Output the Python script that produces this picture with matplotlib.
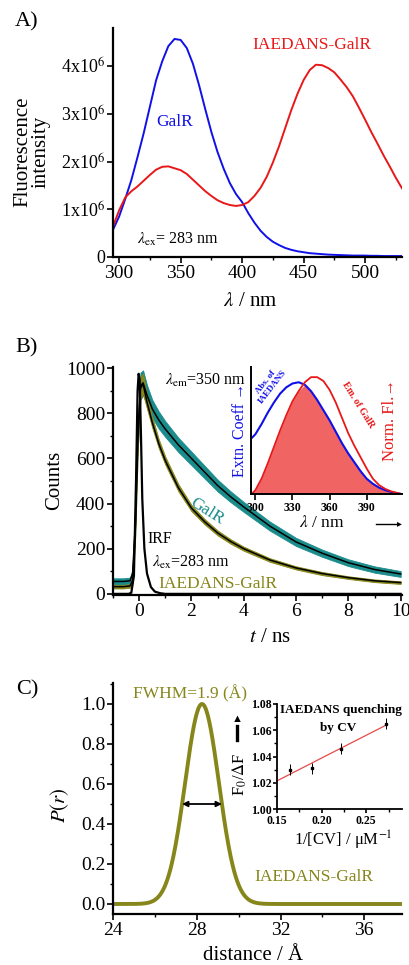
import numpy as np
import matplotlib
matplotlib.use("Agg")
import matplotlib.pyplot as plt
from matplotlib.ticker import MultipleLocator

plt.rcParams['font.family'] = ['Liberation Serif', 'DejaVu Sans']
plt.rcParams['mathtext.fontset'] = 'stix'

BLUE = '#1010e8'
RED = '#e81818'
TEAL = '#1b8c8c'
OLIVE = '#86861a'
FILL = '#f06464'

# --- A) steady-state emission spectra (x1e6 counts) ---
wl = np.arange(295, 531, 5)
galr_em = [0.57, 0.85, 1.22, 1.62, 2.10, 2.60, 3.15, 3.70, 4.10, 4.42, 4.57, 4.55,
           4.38, 4.05, 3.60, 3.10, 2.62, 2.20, 1.85, 1.55, 1.32, 1.15, 0.92, 0.72,
           0.55, 0.42, 0.32, 0.25, 0.19, 0.15, 0.12, 0.10, 0.08, 0.07, 0.06, 0.05,
           0.045, 0.04, 0.035, 0.03, 0.03, 0.03, 0.025, 0.025, 0.02, 0.02, 0.02, 0.02]
iaedans_em = [0.64, 0.98, 1.25, 1.38, 1.48, 1.60, 1.72, 1.83, 1.89, 1.90, 1.86, 1.82,
              1.74, 1.62, 1.50, 1.38, 1.28, 1.19, 1.13, 1.09, 1.07, 1.09, 1.15, 1.28,
              1.45, 1.68, 1.98, 2.32, 2.70, 3.08, 3.42, 3.71, 3.92, 4.03, 4.02, 3.96,
              3.87, 3.72, 3.56, 3.37, 3.13, 2.88, 2.62, 2.38, 2.13, 1.90, 1.66, 1.44]
a_yticks = [0, 1e6, 2e6, 3e6, 4e6]
a_yticklabels = ['0', r'1x10$^6$', r'2x10$^6$', r'3x10$^6$', r'4x10$^6$']

# --- B) time-resolved decays ---
t_decay = [-1.0, -0.6, -0.35, -0.25, -0.15, -0.05, 0.05, 0.15, 0.3, 0.5, 0.75, 1.0,
           1.5, 2.0, 2.5, 3.0, 3.5, 4.0, 5.0, 6.0, 7.0, 8.0, 9.0, 10.0]
galr_counts = [55, 55, 58, 90, 300, 700, 920, 935, 880, 820, 770, 730,
               660, 600, 540, 480, 430, 385, 300, 230, 180, 138, 108, 88]
galr_spread = [14, 14, 14, 20, 40, 50, 60, 55, 45, 40, 38, 35,
               32, 30, 28, 26, 24, 22, 20, 18, 16, 15, 14, 13]
iaedans_counts = [32, 32, 35, 60, 280, 680, 910, 930, 850, 760, 665, 590,
                  470, 380, 320, 270, 232, 200, 150, 115, 90, 72, 58, 50]
iaedans_spread = [8, 8, 8, 12, 30, 40, 50, 45, 30, 24, 20, 18,
                  16, 14, 12, 11, 10, 9, 8, 7, 7, 6, 6, 6]
t_irf = [-1.0, -0.4, -0.3, -0.2, -0.12, -0.06, -0.02, 0.02, 0.07, 0.12, 0.2, 0.3,
         0.45, 0.6, 0.8, 1.0, 10.0]
irf_counts = [0, 0, 5, 80, 500, 900, 975, 950, 700, 420, 200, 90, 30, 10, 3, 0, 0]

# inset: spectral overlap (normalised)
ov_wl = [297, 300, 305, 310, 315, 320, 325, 330, 335, 340, 345, 350, 355,
         360, 365, 370, 375, 380, 385, 390, 395, 400, 405, 410, 418]
abs_iaedans = [0.44, 0.47, 0.55, 0.64, 0.72, 0.79, 0.84, 0.87, 0.88, 0.86, 0.81,
               0.74, 0.66, 0.58, 0.49, 0.40, 0.32, 0.25, 0.18, 0.12, 0.08, 0.05,
               0.03, 0.015, 0.0]
em_galr = [0.0, 0.03, 0.12, 0.24, 0.37, 0.50, 0.62, 0.73, 0.81, 0.88, 0.92, 0.92,
           0.89, 0.82, 0.72, 0.60, 0.48, 0.38, 0.29, 0.20, 0.12, 0.07, 0.04, 0.02, 0.0]

# --- C) distance distribution ---
r_center = 28.25
fwhm = 1.9
inv_cv = [0.165, 0.189, 0.222, 0.272]
f0_df = [1.030, 1.031, 1.046, 1.065]
f0_err = [0.004, 0.004, 0.004, 0.004]

TICK = 14


def style_axes(ax, lw=1.6, size=TICK):
    for s in ['top', 'right']:
        ax.spines[s].set_visible(False)
    for s in ['left', 'bottom']:
        ax.spines[s].set_linewidth(lw)
    ax.tick_params(which='major', direction='out', length=4, width=1.2,
                   labelsize=size, pad=1.5)
    ax.tick_params(which='minor', direction='out', length=2.5, width=1.0)


W, H = 410, 965
fig = plt.figure(figsize=(W / 100, H / 100), dpi=100)


def rect(x0, y0, x1, y1):
    return [x0 / W, 1 - y1 / H, (x1 - x0) / W, (y1 - y0) / H]


def ftxt(x, y, s, **kw):
    fig.text(x / W, 1 - y / H, s, ha='center', va='center', **kw)


# ---------------- A ----------------
axA = fig.add_axes(rect(113, 28, 402, 257))
style_axes(axA)
axA.plot(wl, np.array(galr_em) * 1e6, color=BLUE, lw=1.4)
axA.plot(wl, np.array(iaedans_em) * 1e6, color=RED, lw=1.4)
axA.set_xlim(295, 530)
axA.set_ylim(0, 4.8e6)
axA.set_xticks([300, 350, 400, 450, 500])
axA.xaxis.set_minor_locator(MultipleLocator(25))
axA.set_yticks(a_yticks)
axA.set_yticklabels(a_yticklabels)
axA.tick_params(axis='y', labelsize=13)
axA.text(457, 4.44e6, 'IAEDANS-GalR', color=RED, fontsize=12.5, ha='center', va='center')
axA.text(345, 2.82e6, 'GalR', color=BLUE, fontsize=12.5, ha='center', va='center')
axA.text(348, 0.36e6, r'$\lambda_{\rm ex}$= 283 nm', fontsize=11.5, ha='center', va='center')
ftxt(32, 152, 'Fluorescence\nintensity', fontsize=15, rotation=90, linespacing=1.0)
ftxt(250, 302, r'$\lambda$ / nm', fontsize=15)
ftxt(27, 22, 'A)', fontsize=16)

# ---------------- B ----------------
axB = fig.add_axes(rect(113, 367, 402, 595))
style_axes(axB)
axB.fill_between(t_decay, np.array(galr_counts) - galr_spread,
                 np.array(galr_counts) + galr_spread, color=TEAL, lw=0.6)
axB.fill_between(t_decay, np.array(iaedans_counts) - iaedans_spread,
                 np.array(iaedans_counts) + iaedans_spread, color=OLIVE, lw=0.6)
axB.plot(t_decay, galr_counts, color='k', lw=1.1)
axB.plot(t_decay, iaedans_counts, color='k', lw=1.1)
axB.plot(t_irf, irf_counts, color='k', lw=1.6)
axB.set_xlim(-1, 10.05)
axB.set_ylim(-5, 1005)
axB.set_xticks(range(0, 11, 2))
axB.xaxis.set_minor_locator(MultipleLocator(1))
axB.set_yticks(range(0, 1001, 200))
axB.yaxis.set_minor_locator(MultipleLocator(100))
axB.text(2.55, 945, r'$\lambda_{\rm em}$=350 nm', fontsize=11.5, ha='center', va='center')
axB.text(2.6, 365, 'GalR', color=TEAL, fontsize=12.5, rotation=-32, ha='center', va='center')
axB.text(0.8, 245, 'IRF', fontsize=11.5, ha='center', va='center')
axB.text(2.0, 140, r'$\lambda_{\rm ex}$=283 nm', fontsize=11.5, ha='center', va='center')
axB.text(3.0, 45, 'IAEDANS-GalR', color=OLIVE, fontsize=12.5, ha='center', va='center')
ftxt(55, 480, 'Counts', fontsize=15, rotation=90)
ftxt(270, 637, r'$t$ / ns', fontsize=15)
ftxt(27, 348, 'B)', fontsize=16)

axBi = fig.add_axes(rect(251, 367, 402, 494))
style_axes(axBi, lw=1.4, size=8.5)
axBi.fill_between(ov_wl, 0, np.minimum(abs_iaedans, em_galr), color=FILL, lw=0)
axBi.plot(ov_wl, abs_iaedans, color=BLUE, lw=1.5)
axBi.plot(ov_wl, em_galr, color=RED, lw=1.3)
axBi.set_xlim(296.5, 418.5)
axBi.set_ylim(0, 1.0)
axBi.set_yticks([])
axBi.set_xticks([300, 330, 360, 390])
for lab in axBi.get_xticklabels():
    lab.set_fontweight('bold')
axBi.text(311, 0.86, 'Abs. of\nIAEDANS', color=BLUE, fontsize=6.5, fontweight='bold',
          rotation=52, ha='center', va='center', linespacing=1.05)
axBi.text(383, 0.70, 'Em. of GalR', color=RED, fontsize=7, fontweight='bold',
          rotation=-58, ha='center', va='center')
axBi.text(409, 0.58, 'Norm. Fl.\u2192', color=RED, fontsize=12, rotation=90,
          ha='center', va='center')
ftxt(240, 430, 'Extn. Coeff \u2192', color=BLUE, fontsize=11.5, rotation=90)
ftxt(322, 523, r'$\lambda$ / nm', fontsize=12.5)
fig.add_artist(plt.Line2D([376 / W, 398 / W], [1 - 524 / H] * 2, color='k', lw=1.0))
fig.text(399 / W, 1 - 524 / H, '\u25b8', fontsize=7, ha='center', va='center')

# ---------------- C ----------------
axC = fig.add_axes(rect(113, 683, 402, 914))
style_axes(axC)
r = np.linspace(24, 38, 400)
sigma = fwhm / (2 * np.sqrt(2 * np.log(2)))
p_r = np.exp(-0.5 * ((r - r_center) / sigma) ** 2)
axC.plot(r, p_r, color=OLIVE, lw=2.8)
axC.annotate('', xy=(r_center + fwhm / 2, 0.5), xytext=(r_center - fwhm / 2, 0.5),
             arrowprops=dict(arrowstyle='<|-|>', color='k', lw=1.3,
                             mutation_scale=8, shrinkA=0, shrinkB=0))
axC.set_xlim(24, 37.8)
axC.set_ylim(-0.05, 1.105)
axC.set_xticks([24, 28, 32, 36])
axC.xaxis.set_minor_locator(MultipleLocator(2))
axC.set_yticks(np.arange(0, 1.01, 0.2))
axC.yaxis.set_minor_locator(MultipleLocator(0.1))
axC.set_yticklabels(['0.0', '0.2', '0.4', '0.6', '0.8', '1.0'])
axC.text(27.7, 1.05, 'FWHM=1.9 (\u00c5)', color=OLIVE, fontsize=12.5, ha='center', va='center')
axC.text(33.6, 0.135, 'IAEDANS-GalR', color=OLIVE, fontsize=12.5, ha='center', va='center')
ftxt(60, 805, r'$P(r)$', fontsize=15, rotation=90)
ftxt(253, 955, 'distance / \u00c5', fontsize=15)
ftxt(27, 690, 'C)', fontsize=16)

axCi = fig.add_axes(rect(277, 704, 402, 809))
style_axes(axCi, lw=1.3, size=8.5)
axCi.tick_params(which='major', length=3, pad=1)
axCi.tick_params(which='minor', length=2)
slope, icpt = np.polyfit(inv_cv, f0_df, 1)
xfit = np.array([0.15, inv_cv[-1]])
axCi.plot(xfit, slope * xfit + icpt, color='#e84a4a', lw=0.9)
axCi.errorbar(inv_cv, f0_df, yerr=f0_err, fmt='s', color='k', ms=2, lw=0.7, capsize=0)
axCi.set_xlim(0.15, 0.29)
axCi.set_ylim(1.0, 1.08)
axCi.set_xticks([0.15, 0.20, 0.25])
axCi.xaxis.set_minor_locator(MultipleLocator(0.025))
axCi.set_yticks([1.00, 1.02, 1.04, 1.06, 1.08])
axCi.yaxis.set_minor_locator(MultipleLocator(0.01))
for lab in axCi.get_xticklabels() + axCi.get_yticklabels():
    lab.set_fontweight('bold')
axCi.text(0.2215, 1.0755, 'IAEDANS quenching', fontsize=9.5, fontweight='bold',
          ha='center', va='center')
axCi.text(0.218, 1.0615, 'by CV', fontsize=9.5, fontweight='bold', ha='center', va='center')
ftxt(240, 774, r'F$_0$/$\Delta$F', fontsize=12, rotation=90)
ftxt(343, 840, '1/[CV] / \u03bcM$^{-1}$', fontsize=12)
fig.add_artist(plt.Line2D([237 / W] * 2, [1 - 740 / H, 1 - 726 / H], color='k', lw=2.4))
fig.text(237 / W, 1 - 720 / H, '\u25b2', fontsize=8, ha='center', va='center')

fig.savefig('out.png', dpi=100)
